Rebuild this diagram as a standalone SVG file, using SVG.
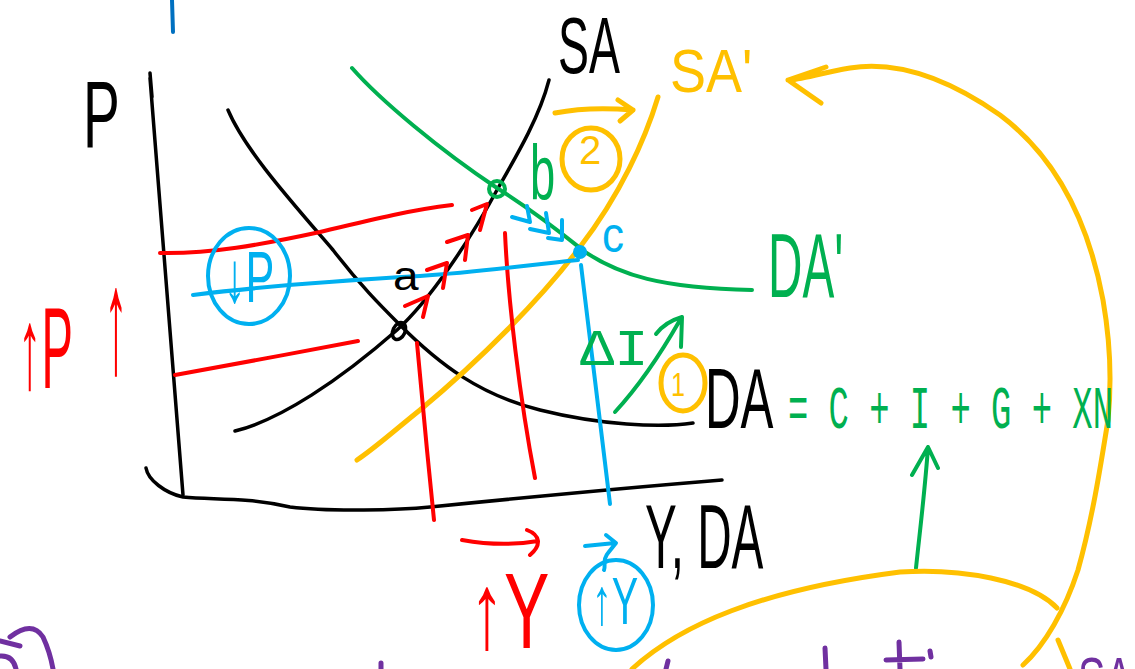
<svg xmlns="http://www.w3.org/2000/svg" width="1135" height="669" viewBox="0 0 1135 669">
<style>
.s{fill:none;stroke-linecap:round;stroke-linejoin:round}
.k{stroke:#000;stroke-width:3.5}
.r{stroke:#ff0000;stroke-width:4}
.g{stroke:#00b050;stroke-width:4}
.y{stroke:#ffc000;stroke-width:5}
.b{stroke:#00b0f0;stroke-width:4}
.p{stroke:#7030a0;stroke-width:5}
text{font-family:"Liberation Sans","DejaVu Sans",sans-serif}
.m{font-family:"Liberation Mono","DejaVu Sans Mono",monospace}
.tk{fill:#000}.tr{fill:#ff0000}.tg{fill:#00b050}.ty{fill:#ffc000}.tb{fill:#00b0f0}.tp{fill:#7030a0}
</style>
<rect width="1135" height="669" fill="#fff"/>
<g id="marks">
<path class="s p" d="M10,637 Q32,620 43,637 Q50,652 53,669 M0,641 L20,646 M0,656 Q13,655 16,669"/>
<path class="s" stroke="#0070c0" stroke-width="4" d="M172,0 L173,32"/>
<path class="s p" d="M381,663 L381,669 M825,648 L826,669 M899,642 L900,669 M886,660 L923,659 M930,651 L931,657 M668,661 L666,669"/>
</g>
<g id="axes">
<path class="s k" d="M150,73 L152,97 M150,78 L183,495"/>
<path class="s k" d="M146,468 C148,480 165,493 183,497 C215,500 245,497 290,507 C330,512 400,510 430,507 C500,500 600,490 722,480"/>
<text class="tk" transform="translate(83,147) scale(0.58,1)" font-size="95">P</text>
<text class="tk" transform="translate(645,568) scale(0.53,1)" font-size="90">Y, DA</text>
</g>
<g id="curve-DA">
<path class="s k" d="M228,110 C245,150 290,200 333,250 C360,285 380,305 400,325 C440,365 480,395 540,410 C600,425 660,428 693,423"/>
</g>
<g id="curve-SA">
<path class="s k" d="M235,431 C280,420 340,380 397,330 C430,300 470,240 497,190 C520,150 540,115 549,80"/>
<text class="tk" transform="translate(558,73) scale(0.58,1)" font-size="80">SA</text>
</g>
<g id="curve-SA2">
<path class="s y" d="M658,97 C645,140 620,195 580,247 C540,300 480,360 420,410 C395,430 375,448 357,460"/>
<text class="ty" transform="translate(670,92) scale(0.87,1)" font-size="62">SA'</text>
</g>
<g id="curve-DA2">
<path class="s g" d="M352,68 C380,100 440,150 497,188 C540,215 570,240 585,252 C620,275 660,288 752,290"/>
<text class="tg" transform="translate(768,297) scale(0.53,1)" font-size="90">DA'</text>
</g>
<g id="guides">
<path class="s r" d="M160,253 C210,254 260,245 320,232 C370,220 410,210 452,205"/>
<path class="s r" d="M175,375 C220,367 300,352 358,341"/>
<path class="s r" d="M417,343 L427,450 L434,520"/>
<path class="s r" d="M505,233 C508,300 520,400 535,478"/>
<path class="s b" d="M193,295 C250,288 330,281 420,276 C480,272 520,266 578,260"/>
<path class="s b" d="M581,265 C590,340 600,420 610,504"/>
</g>
<g id="point-a">
<ellipse cx="399" cy="331" rx="6" ry="9" transform="rotate(25 399 331)" class="s k" stroke-width="4.5"/>
<text class="tk" transform="translate(393,290) scale(1.15,1)" font-size="40">a</text>
</g>
<g id="point-b">
<circle cx="497" cy="189" r="8" class="s g" stroke-width="5"/>
<text class="tg" transform="translate(530,200) scale(0.58,1)" font-size="78">b</text>
</g>
<g id="point-c">
<circle cx="580" cy="252" r="7" fill="#00b0f0"/>
<text class="tb" transform="translate(602,252) scale(0.88,1)" font-size="50">c</text>
</g>
<g id="connectors">
<path class="s r" d="M405,306 L428,296 L423,317 M427,270 L447,263 L443,288 M447,242 L468,235 L465,260 M472,210 L487,204 L480,230"/>
<path class="s b" stroke-width="3.5" d="M512,217 L530,222 L527,206 M530,229 L549,233 L546,213 M548,238 L562,240 L562,220"/>
<path class="s y" d="M555,113 C580,108 610,108 633,110 M618,100 L633,110 L620,121"/>
<path class="s g" d="M615,412 C640,385 660,355 680,320 M656,334 Q665,322 682,317 L681,347"/>
<path class="s g" d="M916,568 C920,530 925,490 928,447 M912,475 L928,447 L938,468"/>
<path class="s y" stroke-width="6" d="M1023,665 C1045,645 1065,610 1078,570 C1092,520 1100,470 1108,420 C1112,380 1110,340 1103,300 C1090,230 1060,160 1000,115 C950,80 900,60 850,68 C820,73 800,80 788,80 M826,67 L788,80 L821,103"/>
<path class="s y" d="M632,669 C680,625 760,590 900,572 C960,568 1030,580 1057,608"/>
<path class="s y" d="M1058,640 L1070,669"/>
<path class="s r" d="M462,540 C490,545 515,545 538,541 M527,530 C540,535 542,545 530,555"/>
<path class="s b" d="M585,546 C595,545 605,544 615,543 M606,535 L616,543 L608,553 C602,560 606,566 604,570"/>
</g>
<g id="label-upP">
<text class="tr" transform="translate(18,388) scale(0.41,1)" font-size="115">↑P</text>
<text class="tr" transform="translate(104,372) scale(0.32,1)" font-size="150">↑</text>
</g>
<g id="label-downP">
<ellipse cx="249" cy="276" rx="41" ry="48" class="s b"/>
<text class="tb" transform="translate(224,302) scale(0.6,1)" font-size="72">↓P</text>
</g>
<g id="label-2">
<ellipse cx="591" cy="159" rx="29" ry="31" class="s y"/>
<text class="ty" x="579" y="164" font-size="40">2</text>
</g>
<g id="label-deltaI">
<text class="tg m" transform="translate(580,365) scale(1.1,1)" font-size="52">ΔI</text>
</g>
<g id="label-1">
<ellipse cx="683" cy="383" rx="22" ry="28" class="s y"/>
<text class="ty" transform="translate(671,396) scale(0.74,1)" font-size="34">1</text>
</g>
<g id="equation">
<text class="tk" transform="translate(705,428) scale(0.58,1)" font-size="85">DA</text>
<text class="tg m" transform="translate(788,428) scale(0.546,1)" font-size="62">= C + I + G + XN</text>
</g>
<g id="label-upY-red">
<text class="tr" transform="translate(470,648) scale(0.63,1)" font-size="108">↑Y</text>
</g>
<g id="label-upY-blue">
<ellipse cx="616" cy="605" rx="37" ry="45" class="s b"/>
<text class="tb" transform="translate(592,624) scale(0.6,1)" font-size="66">↑Y</text>
</g>
<g id="label-SA-purple">
<text class="tp" transform="translate(1078,700) scale(0.66,1)" font-size="62">SA</text>
</g>
</svg>
